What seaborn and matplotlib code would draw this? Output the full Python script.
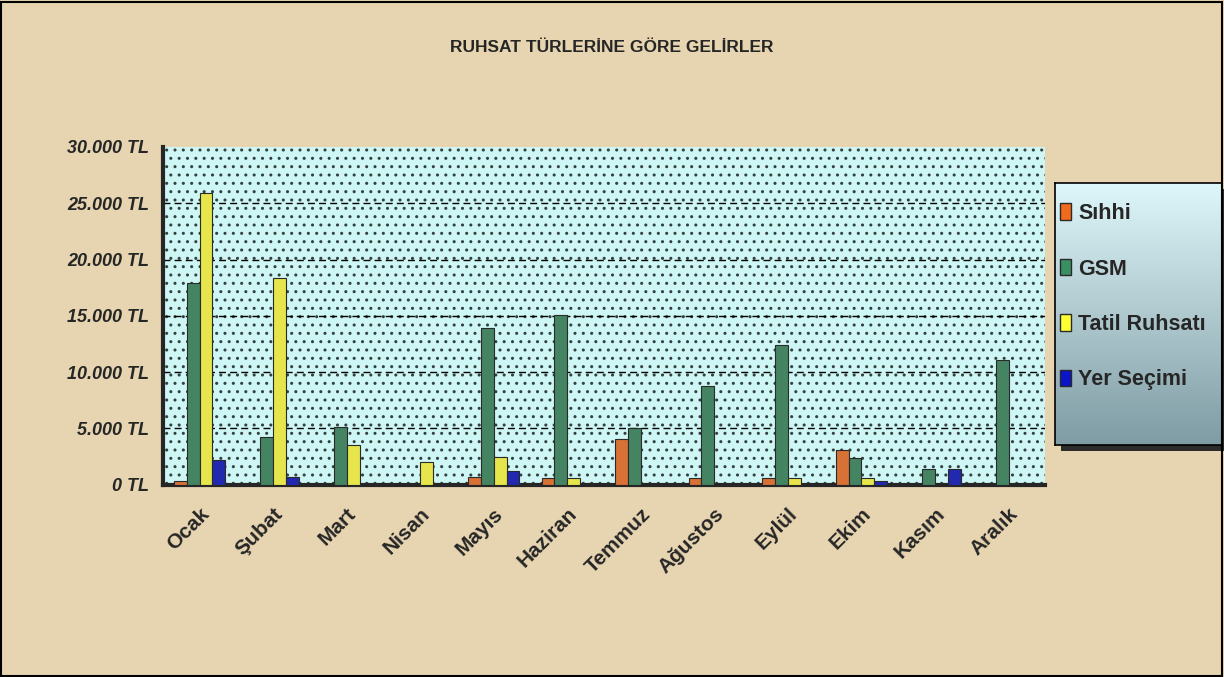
import numpy as np
import pandas as pd
import seaborn as sns
import matplotlib.pyplot as plt
from matplotlib.ticker import FuncFormatter, FixedLocator
from matplotlib.patches import Rectangle
from matplotlib.colors import LinearSegmentedColormap

# Aylar ve ruhsat turlerine gore gelirler (TL)
months = ['Ocak', 'Şubat', 'Mart', 'Nisan', 'Mayıs', 'Haziran',
          'Temmuz', 'Ağustos', 'Eylül', 'Ekim', 'Kasım', 'Aralık']
series = ['Sıhhi', 'GSM', 'Tatil Ruhsatı', 'Yer Seçimi']

sihhi = [300, 0, 0, 0, 650, 600, 4050, 600, 600, 3100, 0, 0]
gsm = [17900, 4250, 5100, 0, 13900, 15050, 5000, 8800, 12400, 2350, 1400, 11100]
tatil = [25900, 18400, 3500, 2000, 2500, 600, 0, 0, 600, 600, 0, 0]
yer = [2200, 700, 0, 0, 1200, 0, 0, 0, 0, 300, 1400, 0]

colors = ['#F26A1B', '#3A8F63', '#FFFF33', '#0A14C8']

df = pd.DataFrame({
    'Ay': months * 4,
    'Tür': np.repeat(series, len(months)),
    'Gelir': sihhi + gsm + tatil + yer,
})

sns.set_style('white')
plt.rcParams['font.family'] = ['Liberation Sans', 'DejaVu Sans']

fig = plt.figure(figsize=(12.24, 6.77), dpi=100)
fig.patch.set_facecolor('#E7D5B1')
fig.patches.append(Rectangle((0.001, 0.001), 0.997, 0.996, transform=fig.transFigure,
                             fill=False, edgecolor='black', linewidth=1.5))

ax = fig.add_axes([0.133, 0.284, 0.721, 0.499])
ax.set_facecolor('#CDF6F4')
ax.patch.set_hatch('..')
ax.patch.set_edgecolor('#33403F')
ax.patch.set_linewidth(0)

sns.barplot(data=df, x='Ay', y='Gelir', hue='Tür', palette=colors,
            width=0.7, edgecolor='#2A2A2A', linewidth=0.8, ax=ax, legend=True,
            zorder=3)

ax.set_ylim(0, 30000)
ax.set_xlim(-0.5, len(months) - 0.5)
ax.set_yticks(np.arange(0, 30001, 5000))
ax.yaxis.set_major_formatter(FuncFormatter(lambda v, p: f'{int(v):,}'.replace(',', '.') + ' TL'))
for v in range(5000, 30000, 5000):
    ax.axhline(v, color='black', linestyle=(0, (5, 3)), linewidth=1, zorder=1)

for side in ['top', 'right']:
    ax.spines[side].set_visible(False)
ax.spines['left'].set_linewidth(3)
ax.spines['bottom'].set_linewidth(3)

ax.tick_params(axis='y', direction='out', length=6, width=3, labelsize=13, pad=4)
for lbl in ax.get_yticklabels():
    lbl.set_fontweight('bold')
    lbl.set_fontstyle('italic')

ax.xaxis.set_minor_locator(FixedLocator(np.arange(-0.5, len(months), 1)))
ax.tick_params(axis='x', which='major', length=0, pad=14)
ax.tick_params(axis='x', which='minor', direction='out', length=7, width=3)
ax.set_xticks(range(len(months)))
ax.set_xticklabels(months, rotation=45, ha='right', rotation_mode='anchor',
                   fontsize=15, fontweight='bold')
ax.set_xlabel('')
ax.set_ylabel('')

# legend box: shadow, gradient fill, then entries on top
box = [0.862, 1 - 445 / 677, 0.136, 262 / 677]
fig.patches.append(Rectangle((box[0] + 0.005, box[1] - 0.009), box[2], box[3],
                             transform=fig.transFigure, facecolor='#2B2B2B',
                             edgecolor='none', zorder=0.5))
gax = fig.add_axes(box, zorder=1)
grad = np.linspace(0, 1, 256).reshape(-1, 1)
cmap = LinearSegmentedColormap.from_list('lg', ['#DDF7FA', '#AFC9CF', '#7F9BA3'])
gax.imshow(grad, aspect='auto', cmap=cmap, extent=[0, 1, 0, 1])
gax.set_xticks([])
gax.set_yticks([])
for s in gax.spines.values():
    s.set_linewidth(1.2)
    s.set_color('black')

ax.get_legend().remove()
handles = [Rectangle((0, 0), 1, 1, facecolor=c, edgecolor='#2A2A2A') for c in colors]
leg = fig.legend(handles, series, loc='upper left', bbox_to_anchor=(0.866, 0.700),
                 borderaxespad=0, frameon=False, labelspacing=1.6,
                 handlelength=0.5, handleheight=0.8, handletextpad=0.35,
                 borderpad=0, prop={'weight': 'bold', 'size': 15.5})
leg.set_zorder(5)

fig.text(0.5, 0.93, 'RUHSAT TÜRLERİNE GÖRE GELİRLER', ha='center', va='center',
         fontsize=12.5, fontweight='bold')

fig.savefig('out.png', dpi=100, facecolor=fig.get_facecolor())
